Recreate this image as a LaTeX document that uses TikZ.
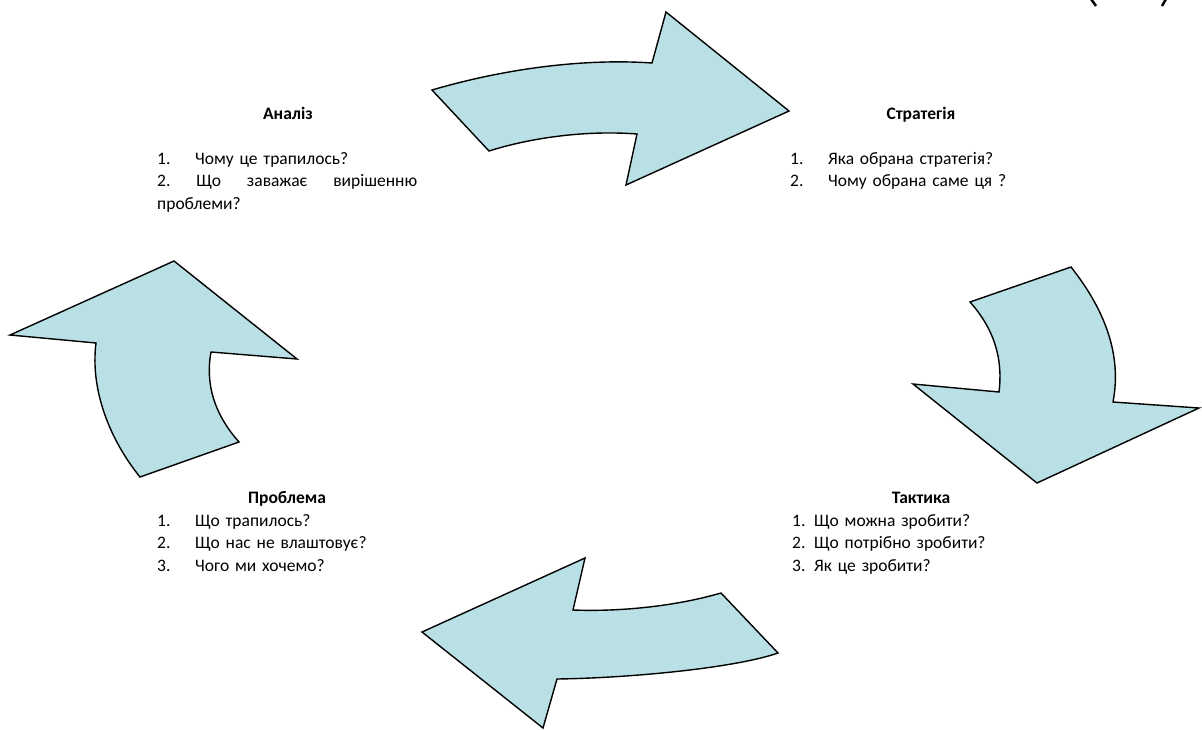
\documentclass[tikz,border=0pt]{standalone}
\usepackage{fontspec}
\setmainfont{Carlito}
\definecolor{arrowfill}{RGB}{185,224,228}
\begin{document}
\begin{tikzpicture}[x=1pt,y=-1pt,
  bigarrow/.style={draw=black,line width=1.4pt,fill=arrowfill,line join=miter},
  head/.style={inner sep=0pt,anchor=base,font=\fontsize{17.5}{22.5}\selectfont\bfseries},
  list/.style={inner sep=0pt,anchor=base west,align=left,text width=265pt,font=\fontsize{17.5}{22.5}\selectfont}]
\useasboundingbox (0,0) rectangle (1202,729);
\def\tab#1{\makebox[38pt][l]{#1}}
% arrows
\draw[bigarrow] (432,90) .. controls (500,70) and (580,58) .. (652,63) -- (666,12) -- (789,111)
  -- (626,185) -- (637,134) .. controls (585,130) and (530,138) .. (489,151) -- cycle; %top
\draw[bigarrow] (970,302) -- (1071,267) .. controls (1105,310) and (1122,355) .. (1113,402)
  -- (1199,408) -- (1037,483) -- (913,384) -- (999,392) .. controls (1003,360) and (995,330) .. (970,302) -- cycle; %right
\draw[bigarrow] (585,558) -- (573,610) .. controls (625,612) and (680,605) .. (721,593) -- (778,653)
  .. controls (735,668) and (630,678) .. (557,679) -- (543,728) -- (422,632) -- cycle; %bottom
\draw[bigarrow] (10,335) -- (174,261) -- (297,359) -- (211,352) .. controls (205,385) and (215,415) .. (239,442)
  -- (140,477) .. controls (110,440) and (90,390) .. (96,343) -- cycle; %left
% texts
\node[head] (analiz) at (288,119) {Аналіз};
\node[list] (analizq) at (157,164) {\tab{1.}Чому це трапилось?\\
  \makebox[260pt][l]{2.\hfill Що\hfill заважає\hfill вирішенню}\\проблеми?};
\node[head] (strategy) at (921,119) {Стратегія};
\node[list] (strategyq) at (790,164) {\tab{1.}Яка обрана стратегія?\\\tab{2.}Чому обрана саме ця ?};
\node[head] (problem) at (287,503) {Проблема};
\node[list] (problemq) at (157,526) {\tab{1.}Що трапилось?\\\tab{2.}Що нас не влаштовує?\\\tab{3.}Чого ми хочемо?};
\node[head] (tactic) at (921,503) {Тактика};
\node[list] (tacticq) at (792,526) {1. Що можна зробити?\\2. Що потрібно зробити?\\3. Як це зробити?};
% cut brackets top right
\draw[line width=2.5pt] (1091,-1) -- (1096,6) (1166,-1) -- (1162,6);
\end{tikzpicture}
\end{document}
